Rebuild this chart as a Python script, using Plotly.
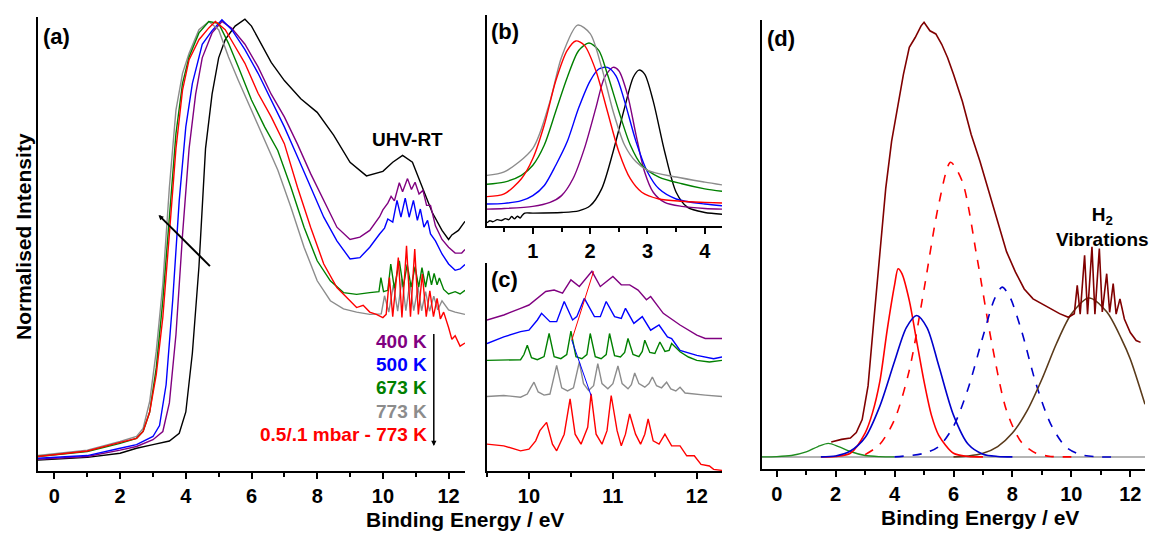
import plotly.graph_objects as go

W, H = 1157, 533
FONT = "Liberation Sans, Arial, sans-serif"

# ---------------- Panel (a): UPS spectra ----------------
a_black_x = [-0.5, 0, 1, 2, 2.5, 3, 3.5, 3.8, 4.0, 4.2, 4.4, 4.6, 4.8, 5.0, 5.2, 5.5, 5.8, 6.0, 6.3, 6.6,
             7.0, 7.5, 8.0, 8.5, 9.0, 9.5, 10.0, 10.3, 10.6, 10.9, 11.2, 11.5, 11.8, 12.0, 12.1, 12.3, 12.5]
a_black_y = [2.4, 2.6, 3.0, 3.9, 5.0, 5.8, 6.6, 8.3, 13, 26, 45, 71, 83, 91, 95, 98, 99.5, 98, 94, 90,
             86, 82, 79, 74, 68, 65, 66, 68, 69.5, 68, 62.5, 57, 53, 51, 52, 53, 55]

a_purple_x = [-0.5, 1, 2, 2.5, 3, 3.3, 3.5, 3.7, 3.9, 4.1, 4.3, 4.5, 4.8, 5.1, 5.4, 5.8, 6.2, 6.6, 7.0, 7.4,
              7.8, 8.2, 8.6, 9.0, 9.3, 9.6, 9.9, 10.0, 10.15, 10.25, 10.35, 10.5, 10.6, 10.75, 10.87,
              10.98, 11.1, 11.22, 11.33, 11.45, 11.6, 11.8, 12.0, 12.2, 12.4, 12.5]
a_purple_y = [2.6, 3.2, 4.6, 5.4, 6.9, 8.7, 15, 30, 52, 71, 83, 91, 96.5, 99, 97.5, 94, 89, 83, 78, 72,
              65.5, 59.6, 53.7, 51, 51.5, 53, 56, 57.5, 59, 60.5, 59.5, 63.5, 61.5, 64.4, 62,
              63.6, 61, 61.8, 58.5, 58.5, 54, 51, 49.3, 48, 48, 48.8]

a_blue_x = [-0.5, 1, 2, 2.5, 3, 3.2, 3.4, 3.6, 3.8, 4.0, 4.2, 4.5, 4.8, 5.1, 5.4, 5.8, 6.2, 6.6, 7.0, 7.4,
            7.8, 8.2, 8.6, 9.0, 9.3, 9.6, 9.9, 10.05, 10.15, 10.3, 10.43, 10.55, 10.68, 10.8, 10.93,
            11.05, 11.14, 11.25, 11.36, 11.45, 11.6, 11.8, 12.0, 12.2, 12.35, 12.5]
a_blue_y = [2.8, 3.4, 5.0, 5.8, 7.6, 10, 19, 37.5, 59.6, 75.8, 85.4, 94, 97, 99.4, 97.2, 92.8, 87.6, 81.7, 75.8, 69.2,
            62.5, 55.9, 50.7, 46.7, 47, 49.3, 52.2, 53.5, 55.5, 54.8, 59.6, 55.9, 60.1, 55.9, 59.6,
            55.2, 57.7, 53.7, 55.2, 52.2, 50.7, 47.8, 45.6, 44.2, 44.5, 45.5]

a_green_x = [-0.5, 1, 2, 2.5, 2.7, 2.9, 3.1, 3.3, 3.5, 3.7, 3.9, 4.1, 4.4, 4.7, 5.0, 5.3, 5.6, 6.0, 6.4, 6.8,
             7.2, 7.6, 8.0, 8.4, 8.8, 9.2, 9.6, 9.88, 9.94, 10.02, 10.15, 10.24, 10.35, 10.5, 10.62, 10.74,
             10.86, 10.98, 11.09, 11.19, 11.3, 11.39, 11.48, 11.56, 11.65, 11.72, 11.85, 12.0, 12.2, 12.35, 12.5]
a_green_y = [3.2, 4.3, 6.1, 7.2, 8.7, 13, 22.7, 37.5, 55.9, 74.3, 85.4, 91.2, 96.5, 99, 98.6, 94.2, 89, 81.7, 75.8, 70.6,
             62.5, 53.7, 46.3, 41.9, 39.3, 38.9, 39.3, 39.5, 42.6, 39.5, 39.8, 45.6, 40.2, 46.3, 40.5, 45.5,
             40.5, 45, 40.5, 44.8, 40.5, 44.1, 41, 43.5, 41, 42.5, 40, 39, 39.5, 39, 39.8]

a_gray_x = [-0.5, 1, 2, 2.5, 2.7, 2.9, 3.1, 3.3, 3.5, 3.7, 3.9, 4.1, 4.4, 4.7, 5.0, 5.3, 5.6, 6.0, 6.4, 6.8,
            7.2, 7.6, 8.0, 8.4, 8.8, 9.2, 9.6, 9.95, 10.05, 10.18, 10.32, 10.45, 10.58, 10.7, 10.82, 10.94,
            11.07, 11.18, 11.3, 11.42, 11.55, 11.67, 11.8, 12.0, 12.2, 12.5]
a_gray_y = [3.4, 4.6, 6.5, 7.6, 9.4, 15.3, 26.4, 41.2, 62.5, 79.5, 87.6, 92, 97.2, 99, 97.2, 91.2, 86, 79.5, 72.9, 66.3,
            58.1, 49.3, 41.9, 37.5, 35.7, 35, 34.5, 34.6, 38.6, 35, 41, 35.2, 42.3, 35.3, 41.5, 35.3,
            40.5, 35.3, 39.5, 35.2, 38.5, 35.5, 37.5, 35.5, 35, 34.5]

a_red_x = [-0.5, 1, 2, 2.5, 2.7, 2.9, 3.1, 3.3, 3.5, 3.7, 3.9, 4.1, 4.4, 4.7, 4.9, 5.2, 5.5, 5.8, 6.2, 6.6,
           7.0, 7.4, 7.8, 8.2, 8.6, 9.0, 9.2, 9.4, 9.6, 9.8, 10.0, 10.1, 10.2, 10.3, 10.47, 10.58, 10.72,
           10.84, 10.97, 11.08, 11.2, 11.32, 11.43, 11.54, 11.65, 11.75, 11.85, 12.0, 12.1, 12.2, 12.35, 12.5]
a_red_y = [3.2, 4.4, 6.3, 7.2, 8.7, 13, 21.2, 33.8, 52.2, 71, 83.9, 90.6, 95, 97.6, 99, 97.2, 93.5, 89.8, 83.2, 78,
           72.1, 62.5, 53.7, 45.6, 40.4, 37.5, 36, 36.5, 35, 34.5, 33.8, 34.5, 42.6, 34, 47, 33.8, 49.6,
           34, 48.9, 34.5, 43.4, 34, 39.7, 34, 38, 33.5, 35, 31.6, 29, 29.8, 27.5, 28.2]

a_labels = ["400 K", "500 K", "673 K", "773 K", "0.5/.1 mbar - 773 K"]
a_label_y = [28.6, 23.5, 18.3, 13.1, 8.0]
a_colors = ["#800080", "#0000FF", "#008000", "#8C8C8C", "#FF0000"]

# ---------------- Panel (b): fitted low-energy peak ----------------
b_gray_x = [0.2, 0.5, 1.0, 1.3, 1.5, 1.78, 2.0, 2.2, 2.4, 2.6, 2.8, 3.0, 3.5, 4.0, 4.3]
b_gray_y = [24, 25.6, 36.8, 59.2, 80, 95.2, 91.2, 75.2, 54.4, 38.4, 30.4, 26.4, 23.2, 20.8, 19.5]
b_red_x = [0.2, 0.5, 0.8, 1.0, 1.2, 1.4, 1.6, 1.75, 1.9, 2.1, 2.3, 2.5, 2.7, 2.9, 3.2, 3.6, 4.0, 4.3]
b_red_y = [13.9, 15.2, 22.4, 32, 48, 68.8, 83.2, 87.7, 85.6, 73.6, 54.4, 35.2, 22.4, 16, 12.8, 11.7, 11.2, 10.9]
b_green_x = [0.2, 0.5, 0.8, 1.0, 1.2, 1.4, 1.6, 1.8, 1.98, 2.15, 2.3, 2.5, 2.7, 2.9, 3.2, 3.6, 4.0, 4.3]
b_green_y = [19.8, 20.8, 24, 28.8, 38.4, 54.4, 70.4, 83.2, 86.7, 83.2, 72, 54.4, 38.4, 28.8, 23.2, 20, 17.6, 16.5]
b_blue_x = [0.2, 0.5, 0.8, 1.0, 1.2, 1.4, 1.6, 1.8, 2.0, 2.15, 2.3, 2.45, 2.6, 2.8, 3.0, 3.2, 3.5, 4.0, 4.3]
b_blue_y = [10.4, 10.7, 12, 14.4, 19.2, 28.8, 40, 56, 68.8, 74.4, 75.2, 71.2, 59.2, 40, 25.6, 17.6, 12.8, 10.4, 9.6]
b_purple_x = [0.2, 0.5, 1.0, 1.3, 1.5, 1.7, 1.9, 2.1, 2.25, 2.4, 2.5, 2.65, 2.8, 2.95, 3.1, 3.3, 3.6, 4.0, 4.3]
b_purple_y = [8, 8.3, 9.3, 11.2, 14.4, 22.4, 36.8, 56, 70.4, 75.2, 73.6, 62.4, 43.2, 25.6, 16, 11.2, 9.3, 8.3, 8]
b_black_x = [0.2, 0.25, 0.3, 0.38, 0.45, 0.52, 0.58, 0.63, 0.68, 0.73, 0.78, 0.82, 0.86, 1.0, 1.5, 1.8, 2.0,
             2.2, 2.4, 2.6, 2.75, 2.85, 2.95, 3.1, 3.3, 3.5, 3.7, 4.0, 4.3]
b_black_y = [1.5, 2.5, 2.0, 3.0, 2.6, 3.5, 3.0, 4.5, 3.4, 4.6, 3.8, 5.2, 6.1, 6.1, 6.4, 7.2, 9.6,
             17.6, 35.2, 56, 70.4, 73.9, 72, 59.2, 35.2, 16, 8.8, 6.4, 5.6]

# ---------------- Panel (c): H2 vibrational region ----------------
c_purple_x = [9.5, 9.7, 9.9, 10.0, 10.2, 10.3, 10.4, 10.5, 10.6, 10.75, 10.85, 11.0, 11.1, 11.2, 11.3, 11.4,
              11.45, 11.6, 11.8, 12.0, 12.1, 12.3]
c_purple_y = [72.6, 75, 78.2, 79.8, 86.3, 87, 85.5, 91.9, 88.7, 96, 88.7, 93.5, 89.5, 89.5, 87, 82.3,
              83.9, 75.8, 70.2, 65.3, 63.7, 63.7]
c_blue_x = [9.5, 9.7, 9.9, 10.0, 10.1, 10.15, 10.25, 10.33, 10.42, 10.52, 10.57, 10.66, 10.78, 10.85, 10.92,
            11.02, 11.1, 11.15, 11.25, 11.35, 11.45, 11.55, 11.65, 11.7, 11.8, 12.0, 12.2, 12.3]
c_blue_y = [61.3, 64.5, 67, 67.7, 72.6, 75.8, 71.8, 71.8, 81.5, 72.6, 74.2, 83, 74.2, 74.2, 81.5,
            74.2, 73.4, 78.2, 71, 74.2, 67.7, 70.2, 64.5, 63.7, 58, 55.6, 54, 54.8]
c_green_x = [9.5, 9.7, 9.9, 9.94, 9.98, 10.03, 10.1, 10.18, 10.24, 10.3, 10.38, 10.45, 10.5, 10.56, 10.63,
             10.69, 10.73, 10.79, 10.86, 10.92, 10.96, 11.02, 11.09, 11.14, 11.18, 11.24, 11.31, 11.35, 11.38,
             11.44, 11.5, 11.56, 11.62, 11.67, 11.7, 11.8, 11.9, 12.0, 12.15, 12.3]
c_green_y = [53.2, 53.5, 53.5, 56, 60.5, 54.5, 53.5, 55, 66.1, 55, 54, 56, 67.3, 55, 54,
             56, 66.1, 55, 54, 56, 66.1, 55.5, 54.8, 57, 63.7, 56, 55, 57.5, 62.9,
             57, 56.5, 62, 57.5, 58, 61.3, 57.3, 54.8, 53.2, 52.4, 53.2]
c_gray_x = [9.5, 9.7, 9.9, 9.98, 10.02, 10.06, 10.11, 10.18, 10.25, 10.29, 10.33, 10.39, 10.46, 10.53, 10.56,
            10.6, 10.65, 10.71, 10.77, 10.82, 10.87, 10.94, 11.0, 11.06, 11.11, 11.18, 11.22, 11.26, 11.31,
            11.38, 11.43, 11.47, 11.52, 11.58, 11.64, 11.69, 11.75, 11.8, 11.86, 11.95, 12.1, 12.3]
c_gray_y = [35.8, 36.3, 35.5, 37, 40, 42.7, 38, 36.5, 37, 44, 50.8, 40, 38.5, 40, 46,
            52.4, 42, 38.7, 41, 51.6, 42, 39.5, 42, 50.5, 42, 39.5, 41.5, 47.1, 42,
            40.3, 42, 45.2, 41, 40, 42.7, 39.5, 38.5, 40.3, 37.5, 37, 36.5, 35.8]
c_red_x = [9.5, 9.7, 9.9, 10.0, 10.08, 10.13, 10.21, 10.28, 10.33, 10.42, 10.49, 10.55, 10.62, 10.7, 10.74,
           10.8, 10.87, 10.93, 10.98, 11.05, 11.1, 11.15, 11.2, 11.27, 11.33, 11.38, 11.42, 11.48, 11.55,
           11.62, 11.7, 11.8, 11.88, 11.97, 12.05, 12.15, 12.2, 12.3]
c_red_y = [12.9, 12.1, 9.7, 10.5, 14.5, 19.4, 23.4, 12.9, 9.7, 17.7, 34.7, 17.7, 12.9, 21, 37.1,
           17.7, 12.9, 19.4, 36.3, 19.4, 12.1, 17.7, 27.4, 17.7, 12.9, 17.7, 25, 14.5, 12.9,
           17.7, 12.1, 12.1, 7.3, 7.3, 3.2, 2.4, 0.8, 0.3]
c_redline_x = [10.51, 10.77]
c_redline_y = [62.9, 96]
c_blueline_x = [10.51, 10.74]
c_blueline_y = [62.9, 36.3]

# ---------------- Panel (d): peak fit of the 773 K spectrum ----------------
d_data_x = [1.85, 2.2, 2.5, 2.7, 2.9, 3.1, 3.3, 3.5, 3.7, 3.9, 4.1, 4.3, 4.5, 4.7, 4.9, 5.0, 5.2, 5.4, 5.6,
            5.8, 6.0, 6.3, 6.6, 6.9, 7.2, 7.5, 7.8, 8.1, 8.4, 8.7, 9.0, 9.3, 9.6, 9.9, 10.1, 10.2, 10.3,
            10.45, 10.55, 10.7, 10.8, 10.95, 11.05, 11.2, 11.3, 11.42, 11.52, 11.65, 11.8, 12.0, 12.2, 12.35]
d_data_y = [6.0, 6.6, 6.9, 8.1, 11, 18.5, 33.4, 48.4, 62.5, 73, 80.4, 87.9, 93.9, 96.1, 98.7, 99.5, 97.6, 96.9, 94.6,
            91.6, 87.9, 81.9, 74.5, 68.5, 61.8, 55.1, 48.4, 43.9, 40.1, 37.9, 36.8, 35.7, 34.6, 33.8, 34.6, 40.9, 34.5,
            47.6, 34.5, 49.5, 34.5, 49.1, 35, 43.5, 34.9, 41.3, 34.5, 37.9, 33.4, 30.4, 28.6, 28.2]
d_base_x = [-0.5, 12.5]
d_base_y = [2.7, 2.7]
d_green_x = [-0.5, 0.0, 0.5, 1.0, 1.4, 1.75, 2.1, 2.5, 3.0, 3.5, 4.0]
d_green_y = [2.7, 2.75, 3.0, 3.8, 5.0, 5.7, 5.0, 3.9, 3.0, 2.75, 2.7]
d_red_x = [1.5, 2.0, 2.5, 3.0, 3.25, 3.5, 3.75, 4.0, 4.12, 4.25, 4.5, 4.75, 5.0, 5.25, 5.5, 6.0, 6.5, 7.0]
d_red_y = [2.7, 2.8, 3.5, 8.0, 12.5, 19.5, 31, 41, 44.6, 43.5, 37.5, 28.5, 19.5, 12, 7.5, 3.5, 2.8, 2.7]
d_blue_x = [1.5, 2.0, 2.5, 3.0, 3.5, 4.0, 4.4, 4.75, 5.1, 5.5, 6.0, 6.5, 7.0, 7.5, 8.0]
d_blue_y = [2.7, 2.9, 4.0, 7.0, 14, 24, 31.5, 34.2, 31.5, 23, 12, 5.5, 3.3, 2.8, 2.7]
d_reddash_x = [3.0, 3.5, 4.0, 4.5, 5.0, 5.5, 5.9, 6.3, 6.8, 7.3, 7.8, 8.3, 8.8, 9.3, 10.0]
d_reddash_y = [3.2, 5.5, 11, 22, 40, 59, 68.3, 64, 47, 28, 13, 6, 3.5, 2.8, 2.7]
d_bluedash_x = [4.0, 5.0, 5.5, 6.0, 6.5, 7.0, 7.4, 7.65, 7.9, 8.3, 8.8, 9.3, 9.8, 10.3, 11.0, 11.5]
d_bluedash_y = [2.7, 3.5, 5, 9.5, 18, 29.5, 38, 40.5, 38.5, 31, 19, 10, 5, 3.2, 2.7, 2.7]
d_brown_x = [6.0, 6.5, 7.0, 7.5, 8.0, 8.5, 9.0, 9.5, 10.0, 10.6, 11.2, 11.7, 12.0, 12.5]
d_brown_y = [2.7, 2.9, 3.5, 5, 8, 13, 20, 28, 34.5, 38.1, 35, 29, 24.5, 14.4]

a_ticks = [0, 2, 4, 6, 8, 10, 12]
b_ticks = [1, 2, 3, 4]
c_ticks = [10, 11, 12]


def px_x(p):
    return p / W


def px_y(p):
    return 1 - p / H


fig = go.Figure()

LW = 1.4


def add(x, y, color, axis, dash=None, shape="linear", width=LW):
    fig.add_trace(go.Scatter(x=x, y=y, mode="lines", xaxis="x" + axis if axis != "1" else "x",
                             yaxis="y" + axis if axis != "1" else "y", showlegend=False, hoverinfo="skip",
                             line=dict(color=color, width=width, dash=dash, shape=shape,
                                       smoothing=0.8 if shape == "spline" else None)))


# panel a
add(a_black_x, a_black_y, "#000000", "1")
add(a_purple_x, a_purple_y, "#800080", "1")
add(a_blue_x, a_blue_y, "#0000FF", "1")
add(a_gray_x, a_gray_y, "#8C8C8C", "1")
add(a_green_x, a_green_y, "#008000", "1")
add(a_red_x, a_red_y, "#FF0000", "1")

# panel b
add(b_black_x, b_black_y, "#000000", "2", shape="spline")
add(b_purple_x, b_purple_y, "#800080", "2", shape="spline")
add(b_blue_x, b_blue_y, "#0000FF", "2", shape="spline")
add(b_green_x, b_green_y, "#008000", "2", shape="spline")
add(b_gray_x, b_gray_y, "#8C8C8C", "2", shape="spline")
add(b_red_x, b_red_y, "#FF0000", "2", shape="spline")

# panel c
add(c_purple_x, c_purple_y, "#800080", "3")
add(c_blue_x, c_blue_y, "#0000FF", "3")
add(c_green_x, c_green_y, "#008000", "3")
add(c_gray_x, c_gray_y, "#8C8C8C", "3")
add(c_red_x, c_red_y, "#FF0000", "3")
add(c_redline_x, c_redline_y, "#FF0000", "3", width=1)
add(c_blueline_x, c_blueline_y, "#0000FF", "3", width=1)

# panel d
add(d_base_x, d_base_y, "#B4B4B4", "4", width=2)
add(d_green_x, d_green_y, "#1E8C1E", "4", shape="spline")
add(d_reddash_x, d_reddash_y, "#FF0000", "4", dash="dash", shape="spline", width=1.6)
add(d_bluedash_x, d_bluedash_y, "#0000CC", "4", dash="dash", shape="spline", width=1.6)
add(d_brown_x, d_brown_y, "#5A3A1A", "4", shape="spline", width=1.6)
add(d_data_x, d_data_y, "#800000", "4", width=1.6)
add(d_red_x, d_red_y, "#FF0000", "4", shape="spline", width=1.6)
add(d_blue_x, d_blue_y, "#0000CC", "4", shape="spline", width=1.6)

tickfont = dict(family=FONT, size=20, color="black")


def xax(domain, rng, ticks, minor_dtick):
    return dict(domain=domain, range=rng, tickvals=ticks, ticktext=["<b>%s</b>" % t for t in ticks],
                showline=True, linecolor="black", linewidth=2, ticks="outside", ticklen=6, tickwidth=1.5,
                tickcolor="black", tickfont=tickfont, showgrid=False, zeroline=False, mirror=False,
                minor=dict(dtick=minor_dtick, tick0=0, ticks="outside", ticklen=4, tickwidth=1.5, tickcolor="black",
                           showgrid=False))


def yax(domain, anchor):
    return dict(domain=domain, range=[0, 100], showline=True, linecolor="black", linewidth=2, ticks="",
                showticklabels=False, showgrid=False, zeroline=False, anchor=anchor)


fig.update_layout(
    width=W, height=H, margin=dict(l=0, r=0, t=0, b=0), plot_bgcolor="white", paper_bgcolor="white",
    showlegend=False,
    xaxis=dict(**xax([px_x(38), px_x(465)], [-0.5, 12.5], a_ticks, 1), anchor="y"),
    yaxis=yax([px_y(471), px_y(17)], "x"),
    xaxis2=dict(**xax([px_x(487), px_x(722)], [0.2, 4.3], b_ticks, 0.5), anchor="y2"),
    yaxis2=yax([px_y(226), px_y(15)], "x2"),
    xaxis3=dict(**xax([px_x(487), px_x(722)], [9.5, 12.3], c_ticks, 0.5), anchor="y3"),
    yaxis3=yax([px_y(471), px_y(263)], "x3"),
    xaxis4=dict(**xax([px_x(762), px_x(1145)], [-0.5, 12.5], a_ticks, 1), anchor="y4"),
    yaxis4=yax([px_y(469), px_y(20)], "x4"),
)

ann = []
lab = dict(family=FONT, size=22, color="black")
# panel letters
for txt, xr, yr in [("(a)", "x", "y"), ("(b)", "x2", "y2"), ("(c)", "x3", "y3"), ("(d)", "x4", "y4")]:
    ann.append(dict(text="<b>" + txt + "</b>", xref=xr + " domain", yref=yr + " domain", x=0.008, y=0.99,
                    xanchor="left", yanchor="top", showarrow=False, font=lab))

ann.append(dict(text="<b>UHV-RT</b>", x=10.75, y=73, xref="x", yref="y", showarrow=False,
                font=dict(family=FONT, size=19, color="black")))
for t, yy, c in zip(a_labels, a_label_y, a_colors):
    ann.append(dict(text="<b>" + t + "</b>", x=11.4, y=yy, xref="x", yref="y", xanchor="right",
                    showarrow=False, font=dict(family=FONT, size=19, color=c)))
# arrows panel a
ann.append(dict(x=3.17, y=56.4, ax=4.78, ay=44.8, xref="x", yref="y", axref="x", ayref="y", text="",
                showarrow=True, arrowhead=2, arrowsize=0.5, arrowwidth=2, arrowcolor="black"))
ann.append(dict(x=11.55, y=5.5, ax=11.55, ay=30.5, xref="x", yref="y", axref="x", ayref="y", text="",
                showarrow=True, arrowhead=2, arrowsize=0.7, arrowwidth=1.5, arrowcolor="black"))
# panel d label
ann.append(dict(text="<b>H<sub>2</sub><br>Vibrations</b>", x=11.05, y=54, xref="x4", yref="y4",
                showarrow=False, font=dict(family=FONT, size=19, color="black")))
# axis titles
ann.append(dict(text="<b>Binding Energy / eV</b>", x=px_x(465), y=px_y(519), xref="paper", yref="paper",
                xanchor="center", yanchor="middle",
                showarrow=False, font=dict(family=FONT, size=21, color="black")))
ann.append(dict(text="<b>Binding Energy / eV</b>", x=px_x(980), y=px_y(517), xref="paper", yref="paper",
                xanchor="center", yanchor="middle",
                showarrow=False, font=dict(family=FONT, size=21, color="black")))
ann.append(dict(text="<b>Normalised Intensity</b>", x=px_x(23), y=px_y(237), xref="paper", yref="paper",
                xanchor="center", yanchor="middle",
                textangle=-90, showarrow=False, font=dict(family=FONT, size=21, color="black")))
fig.update_layout(annotations=ann)

fig.write_html("out.html")
